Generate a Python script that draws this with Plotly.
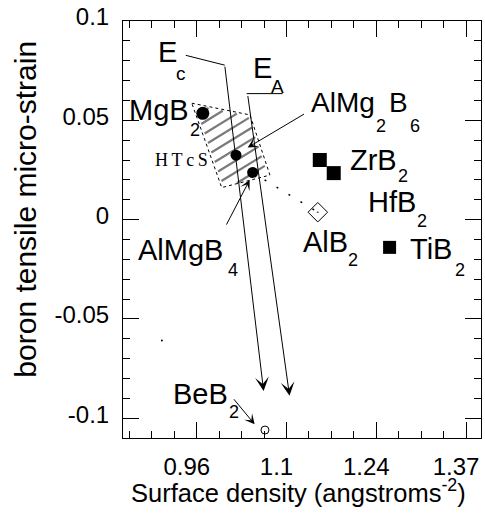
import math
import plotly.graph_objects as go

# ---------------- data ----------------
compounds = ["MgB2", "AlMg2B6", "AlMgB4", "ZrB2", "HfB2", "TiB2", "AlB2", "BeB2"]
surface_density = [0.974, 1.024, 1.049, 1.150, 1.171, 1.255, 1.147, 1.0675]
boron_strain = [0.0535, 0.0324, 0.0237, 0.030, 0.0234, -0.014, 0.0037, -0.106]

# high-Tc superconductor region (hatched quadrilateral)
htcs_x = [0.9575, 1.045, 1.075, 1.0025]
htcs_y = [0.0586, 0.0527, 0.0224, 0.0161]

# stray dot visible in the reference
stray_x = [0.9125]
stray_y = [-0.0609]

x_tickvals = [0.965, 1.1, 1.235, 1.37]
x_ticktext = ["0.96", "1.1", "1.24", "1.37"]
y_tickvals = [-0.1, -0.05, 0, 0.05, 0.1]
y_ticktext = ["-0.1", "-0.05", "0", "0.05", "0.1"]

# ---------------- layout constants ----------------
W, H = 485, 519
ML, MR, MT, MB = 123, 3, 13, 81
X_RANGE = [0.854, 1.3925]
Y_RANGE = [-0.11, 0.1]
SANS = "Liberation Sans, Arial, Helvetica, sans-serif"
SERIF = "Liberation Serif, Times New Roman, serif"
PW = W - ML - MR
PH = H - MT - MB


def at(px, py):
    """Pixel position in the figure -> axis coordinates."""
    x = X_RANGE[0] + (px - ML) / PW * (X_RANGE[1] - X_RANGE[0])
    y = Y_RANGE[1] - (py - MT) / PH * (Y_RANGE[1] - Y_RANGE[0])
    return x, y


def to_px(x, y):
    px = ML + (x - X_RANGE[0]) / (X_RANGE[1] - X_RANGE[0]) * PW
    py = MT + (Y_RANGE[1] - y) / (Y_RANGE[1] - Y_RANGE[0]) * PH
    return px, py


def pick(names):
    idx = [compounds.index(n) for n in names]
    return [surface_density[i] for i in idx], [boron_strain[i] for i in idx]


def hatch_lines(xs, ys, angle_deg=32, spacing=10.0, offset=3.0):
    """Diagonal hatch segments clipped to the polygon (computed in pixel space)."""
    pts = [to_px(x, y) for x, y in zip(xs, ys)]
    th = math.radians(angle_deg)
    n = (math.sin(th), math.cos(th))
    proj = [p[0] * n[0] + p[1] * n[1] for p in pts]
    smin, smax = min(proj), max(proj)
    hx, hy = [], []
    s = smin + offset
    while s < smax:
        inter = []
        for i in range(len(pts)):
            a, b = pts[i], pts[(i + 1) % len(pts)]
            sa, sb = proj[i], proj[(i + 1) % len(pts)]
            if (sa - s) * (sb - s) < 0:
                t = (s - sa) / (sb - sa)
                inter.append((a[0] + t * (b[0] - a[0]), a[1] + t * (b[1] - a[1])))
        if len(inter) >= 2:
            inter.sort()
            (x0p, y0p), (x1p, y1p) = inter[0], inter[-1]
            dx, dy = x1p - x0p, y1p - y0p
            L = math.hypot(dx, dy)
            if L > 6:
                ux, uy = dx / L, dy / L
                x0p, y0p = x0p + 2 * ux, y0p + 2 * uy
                x1p, y1p = x1p - 2 * ux, y1p - 2 * uy
                a0 = at(x0p, y0p)
                a1 = at(x1p, y1p)
                hx += [a0[0], a1[0], None]
                hy += [a0[1], a1[1], None]
        s += spacing
    return hx, hy


fig = go.Figure()

# hatch stripes
hx, hy = hatch_lines(htcs_x, htcs_y)
fig.add_trace(go.Scatter(x=hx, y=hy, mode="lines", line=dict(color="#7a7a7a", width=2.2),
                         hoverinfo="skip"))
# dotted border of region
fig.add_trace(go.Scatter(
    x=htcs_x + htcs_x[:1], y=htcs_y + htcs_y[:1], mode="lines",
    line=dict(color="black", width=1, dash="dot"), hoverinfo="skip"))

# dotted connector AlMgB4 -> AlB2
cx, cy = pick(["AlMgB4", "AlB2"])
fig.add_trace(go.Scatter(x=cx, y=cy, mode="lines",
                         line=dict(color="black", width=1.5, dash="2px,12px")))

# filled circles
for name, size in [("MgB2", 13), ("AlMg2B6", 11), ("AlMgB4", 11)]:
    px_, py_ = pick([name])
    fig.add_trace(go.Scatter(x=px_, y=py_, mode="markers",
                             marker=dict(symbol="circle", size=size, color="black")))
# squares
for name, size in [("ZrB2", 14), ("HfB2", 14), ("TiB2", 13)]:
    px_, py_ = pick([name])
    fig.add_trace(go.Scatter(x=px_, y=py_, mode="markers",
                             marker=dict(symbol="square", size=size, color="black")))
# AlB2 open diamond with dot
px_, py_ = pick(["AlB2"])
fig.add_trace(go.Scatter(x=px_, y=py_, mode="markers",
                         marker=dict(symbol="diamond-open-dot", size=15, color="black",
                                     line=dict(width=1, color="black"))))
# BeB2 open circle
px_, py_ = pick(["BeB2"])
fig.add_trace(go.Scatter(x=px_, y=py_, mode="markers",
                         marker=dict(symbol="circle-open", size=8, color="black",
                                     line=dict(width=1, color="black"))))
# stray dot
fig.add_trace(go.Scatter(x=stray_x, y=stray_y, mode="markers",
                         marker=dict(size=2, color="black")))

annotations = []
shapes = []

# text labels: (text, left px, centre px, size, family)
labels = [
    ("E", 157, 45, 29, SANS), ("c", 175, 67, 19, SANS),
    ("E", 252, 61, 29, SANS), ("A", 270, 80, 19, SANS),
    ("MgB", 128, 104, 29, SANS), ("2", 189, 124, 18, SANS),
    ("AlMg", 311, 96, 28, SANS), ("2", 376, 120, 18, SANS),
    ("B", 389, 96, 28, SANS), ("6", 410, 120, 18, SANS),
    ("ZrB", 350, 155, 29, SANS), ("2", 398, 171, 18, SANS),
    ("HfB", 368, 197, 29, SANS), ("2", 417, 217, 18, SANS),
    ("TiB", 410, 245, 29, SANS), ("2", 455, 267, 18, SANS),
    ("AlB", 302, 238, 29, SANS), ("2", 348, 257, 18, SANS),
    ("AlMgB", 137, 246, 29, SANS), ("4", 227, 267, 18, SANS),
    ("BeB", 172, 393, 29, SANS), ("2", 228, 412, 18, SANS),
    ("H\u2009T\u2009c\u2009S", 154, 155, 18, SERIF),
]
for text, lx, cyp, size, fam in labels:
    x, y = at(lx, cyp)
    annotations.append(dict(x=x, y=y, xref="x", yref="y", text=text, showarrow=False,
                            xanchor="left", yanchor="middle", borderpad=0,
                            font=dict(family=fam, size=size, color="black")))

# plain line segments (pixel endpoints)
for (x0p, y0p), (x1p, y1p) in [((186, 48), (225, 58)), ((247, 87), (283, 87))]:
    x0, y0 = at(x0p, y0p)
    x1, y1 = at(x1p, y1p)
    shapes.append(dict(type="line", xref="x", yref="y", x0=x0, y0=y0, x1=x1, y1=y1,
                       line=dict(color="black", width=1)))

# arrows: tail px -> tip px, head size
for (tp, hp, hs) in [((225, 58), (264, 390), 2.3), ((248, 88), (290, 395), 2.3),
                     ((306, 107), (248, 142), 1.7), ((226, 222), (250, 175), 1.7),
                     ((233, 397), (255, 424), 1.7)]:
    ax, ay = at(*tp)
    x, y = at(*hp)
    annotations.append(dict(x=x, y=y, ax=ax, ay=ay, xref="x", yref="y", axref="x", ayref="y",
                            text="", showarrow=True, arrowhead=3, arrowsize=hs,
                            arrowwidth=1, arrowcolor="black", standoff=0))

# axis titles
annotations.append(dict(x=(299 - ML) / PW, y=(H - MB - 492) / PH, xref="paper", yref="paper",
                        text="Surface density (angstroms<sup>-2</sup>)", showarrow=False,
                        xanchor="center", yanchor="middle",
                        font=dict(family=SANS, size=25.5, color="black")))
annotations.append(dict(x=(25 - ML) / PW, y=(H - MB - 205) / PH,
                        xref="paper", yref="paper", text="boron tensile micro-strain",
                        showarrow=False, textangle=-90, xanchor="center", yanchor="middle",
                        font=dict(family=SANS, size=30, color="black")))

axis_common = dict(showgrid=False, zeroline=False, showline=True, linecolor="black",
                   linewidth=1, mirror="ticks", ticks="inside", ticklen=16, tickwidth=1,
                   tickcolor="black", ticklabeloverflow="allow",
                   tickfont=dict(family=SANS, size=24, color="black"))

fig.update_xaxes(range=X_RANGE, tickmode="array", tickvals=x_tickvals, ticktext=x_ticktext,
                 ticklabelstandoff=7, ticklabelshift=-10,
                 minor=dict(ticks="inside", ticklen=7, tickwidth=1, tickcolor="black",
                            tick0=0.965, dtick=0.03375), **axis_common)
fig.update_yaxes(range=Y_RANGE, tickmode="array", tickvals=y_tickvals, ticktext=y_ticktext,
                 ticklabelstandoff=8, ticklabelshift=-4,
                 minor=dict(ticks="inside", ticklen=7, tickwidth=1, tickcolor="black",
                            tick0=0, dtick=0.01), **axis_common)

fig.update_layout(width=W, height=H, margin=dict(l=ML, r=MR, t=MT, b=MB, pad=0),
                  plot_bgcolor="white", paper_bgcolor="white", showlegend=False,
                  annotations=annotations, shapes=shapes,
                  font=dict(family=SANS, color="black"))

fig.write_html("out.html", config={"displayModeBar": False},
               post_script="document.body.style.margin='0';")
